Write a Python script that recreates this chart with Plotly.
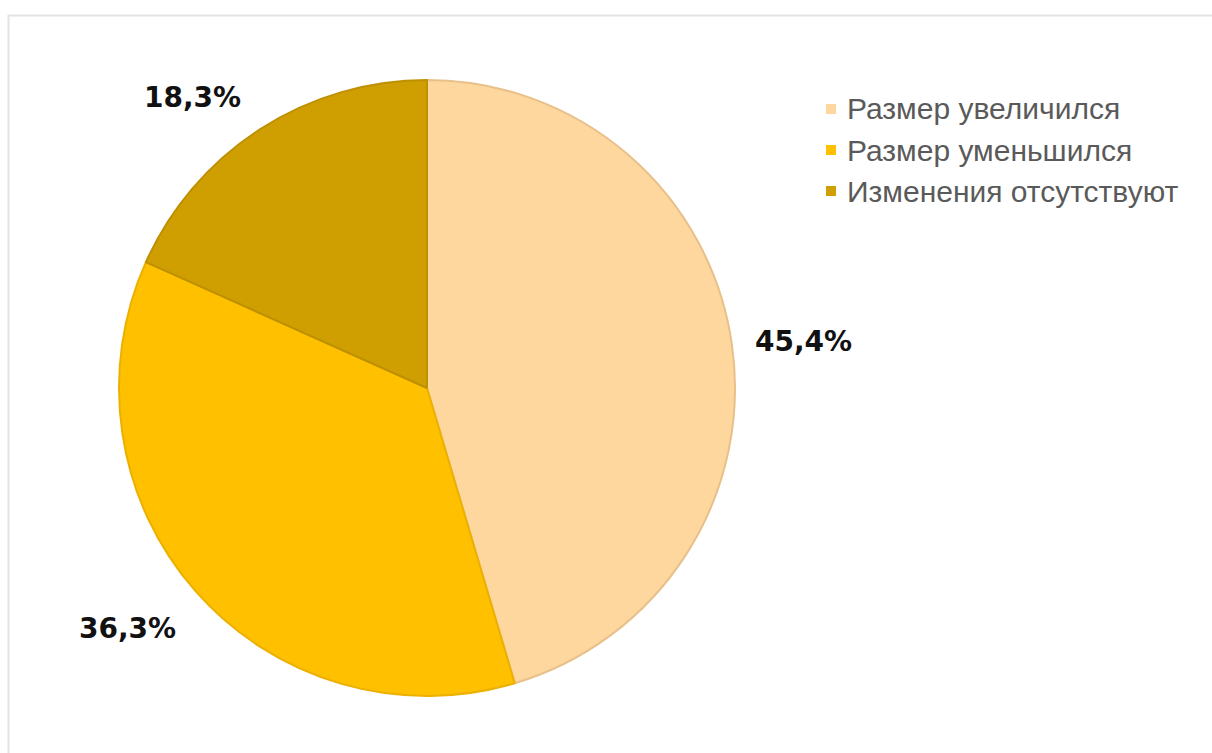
import plotly.graph_objects as go

# Chart data
labels = ["Размер увеличился", "Размер уменьшился", "Изменения отсутствуют"]
shares = [45.4, 36.3, 18.3]
colors = ["#FDD79E", "#FFC000", "#CF9E00"]
edge_colors = ["#E8C08A", "#EBB000", "#BE9000"]

W, H = 1212, 753

# pie geometry (pixels)
cx, cy, r = 427, 388, 308

# value label anchors (pixels)
label_pos = [(803, 341), (127, 628), (192, 97)]

# legend layout (pixels)
leg_marker_x = 831
leg_text_x = 845
leg_rows_y = [109, 150, 191]


def px(x):
    return x / W


def py(y):
    return 1 - y / H


fig = go.Figure(
    go.Pie(
        labels=labels,
        values=shares,
        sort=False,
        direction="clockwise",
        rotation=0,
        marker=dict(colors=colors, line=dict(color=edge_colors, width=2)),
        textinfo="none",
        hoverinfo="label+percent",
        domain=dict(x=[px(cx - r), px(cx + r)], y=[py(cy + r), py(cy - r)]),
        showlegend=False,
    )
)

annotations = []
for v, (x, y) in zip(shares, label_pos):
    annotations.append(
        dict(
            x=px(x), y=py(y), xref="paper", yref="paper",
            text="<b>" + f"{v:.1f}%".replace(".", ",") + "</b>",
            showarrow=False, xanchor="center", yanchor="middle",
            font=dict(family="DejaVu Sans", size=28, color="#111111", weight="bold"),
        )
    )

shapes = [
    # outer frame of the chart area
    dict(type="rect", xref="paper", yref="paper",
         x0=px(8.5), x1=px(W + 10), y0=py(H + 10), y1=py(15.5),
         line=dict(color="#E3E3E3", width=2), fillcolor="rgba(0,0,0,0)",
         layer="below"),
]

for name, col, y in zip(labels, colors, leg_rows_y):
    shapes.append(
        dict(type="rect", xref="paper", yref="paper",
             x0=px(leg_marker_x - 5), x1=px(leg_marker_x + 5),
             y0=py(y + 5), y1=py(y - 5),
             line=dict(width=0), fillcolor=col)
    )
    annotations.append(
        dict(
            x=px(leg_text_x), y=py(y), xref="paper", yref="paper",
            text=name, showarrow=False, xanchor="left", yanchor="middle",
            font=dict(family="Liberation Sans, Arial", size=30, color="#5A5A5A"),
        )
    )

fig.update_layout(
    width=W, height=H,
    margin=dict(l=0, r=0, t=0, b=0),
    paper_bgcolor="white",
    plot_bgcolor="white",
    annotations=annotations,
    shapes=shapes,
)

fig.write_html("out.html")
